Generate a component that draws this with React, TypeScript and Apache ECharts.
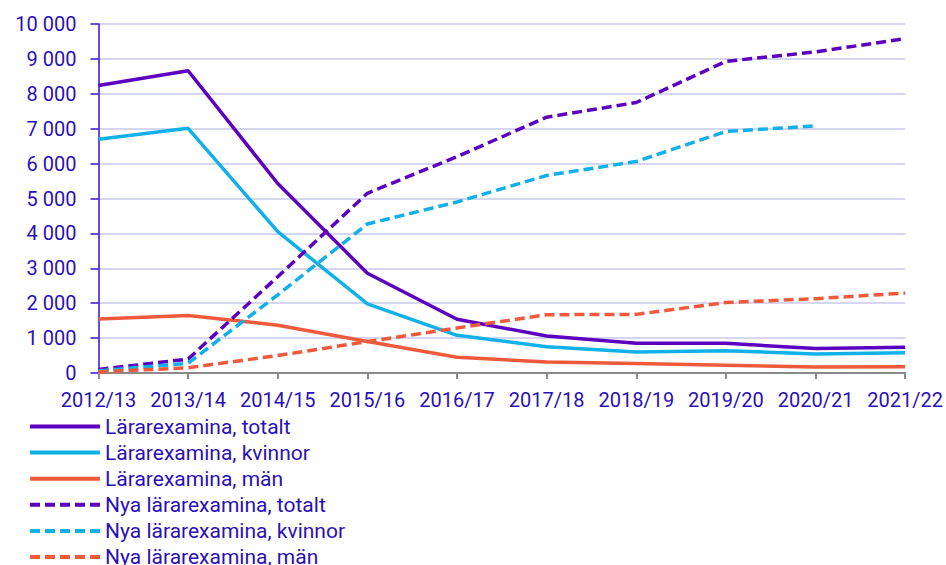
import React, { useEffect, useRef } from "react";
import * as echarts from "echarts";

const categories = ["2012/13", "2013/14", "2014/15", "2015/16", "2016/17", "2017/18", "2018/19", "2019/20", "2020/21", "2021/22"];
const larTotalt = [8240, 8660, 5430, 2860, 1540, 1060, 850, 850, 700, 740];
const larKvinnor = [6700, 7010, 4050, 1980, 1080, 755, 600, 640, 545, 580];
const larMan = [1550, 1650, 1370, 900, 450, 315, 270, 220, 170, 180];
const nyaTotalt = [100, 400, 2760, 5150, 6200, 7330, 7750, 8930, 9200, 9580];
const nyaKvinnor = [60, 280, 2240, 4270, 4900, 5660, 6060, 6920, 7080, null];
const nyaMan = [30, 150, 500, 900, 1290, 1670, 1680, 2020, 2130, 2290];

const PURPLE = "#5c00c0";
const CYAN = "#12b0e8";
const ORANGE = "#f05a3c";
const TEXT = "#2a10b8";

export default function App() {
  const ref = useRef<HTMLDivElement>(null);
  useEffect(() => {
    const chart = echarts.init(ref.current!, null, { renderer: "svg" });
    const mk = (name: string, data: (number | null)[], color: string, dashed: boolean) => ({
      name,
      type: "line",
      data,
      symbol: "none",
      connectNulls: false,
      lineStyle: { color, width: 3.5, type: dashed ? [10, 5] : "solid" },
      itemStyle: { color },
    });
    chart.setOption({
      animation: false,
      textStyle: { fontFamily: "Roboto" },
      grid: { left: 98.5, right: 38, top: 24, bottom: 192, containLabel: false },
      legend: {
        orient: "vertical",
        left: 23,
        top: 411,
        height: 200,
        itemWidth: 70,
        itemHeight: 20,
        itemGap: 5.1,
        itemStyle: { opacity: 0 },
        lineStyle: { width: 4 },
        textStyle: { color: TEXT, fontSize: 21, lineHeight: 21, fontFamily: "Roboto" },
        data: [
          "Lärarexamina, totalt",
          "Lärarexamina, kvinnor",
          "Lärarexamina, män",
          "Nya lärarexamina, totalt",
          "Nya lärarexamina, kvinnor",
          "Nya lärarexamina, män",
        ],
      },
      xAxis: {
        type: "category",
        data: categories,
        boundaryGap: false,
        axisLine: { lineStyle: { color: "#8a8a8a", width: 2 } },
        axisTick: { show: true, length: 6, lineStyle: { color: "#8a8a8a", width: 2 } },
        axisLabel: { color: TEXT, fontSize: 20, margin: 17, interval: 0 },
      },
      yAxis: {
        type: "value",
        min: 0,
        max: 10000,
        interval: 1000,
        axisLine: { show: true, lineStyle: { color: "#3a10c8", width: 1.5 } },
        axisTick: { show: true, length: 8, lineStyle: { color: "#3a10c8", width: 1.5 } },
        splitLine: { lineStyle: { color: "#d6d6f0", width: 2 } },
        axisLabel: {
          color: TEXT,
          fontSize: 20,
          margin: 22,
          formatter: (v: number) => String(v).replace(/\B(?=(\d{3})+(?!\d))/g, " "),
        },
      },
      series: [
        mk("Lärarexamina, totalt", larTotalt, PURPLE, false),
        mk("Lärarexamina, kvinnor", larKvinnor, CYAN, false),
        mk("Lärarexamina, män", larMan, ORANGE, false),
        mk("Nya lärarexamina, totalt", nyaTotalt, PURPLE, true),
        mk("Nya lärarexamina, kvinnor", nyaKvinnor, CYAN, true),
        mk("Nya lärarexamina, män", nyaMan, ORANGE, true),
      ],
    });
    return () => chart.dispose();
  }, []);
  return <div ref={ref} style={{ width: 946, height: 565, position: "absolute", left: 0, top: 0, background: "#fff" }} />;
}
